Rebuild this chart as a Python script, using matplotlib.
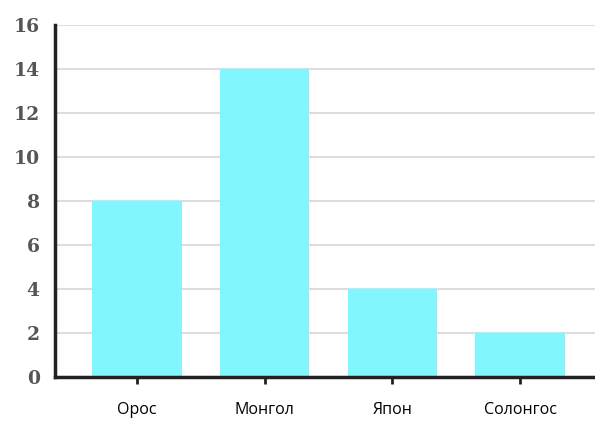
from matplotlib import pyplot as plt
import numpy as np

countries = ['Орос', 'Монгол', 'Япон', 'Солонгос']
values = [8, 14, 4, 2]
yticks = [0, 2, 4, 6, 8, 10, 12, 14, 16]

fig = plt.figure(figsize=(5.95, 4.21), dpi=100)
ax = fig.add_axes([55/595, 1-377/421, 1-55/595, 352/421])

x = np.arange(len(countries))
ax.bar(x, values, width=0.7, color='#82f6fe', zorder=2)

ax.set_xlim(-0.642, 3.587)
ax.set_ylim(0, 16)
ax.set_yticks(yticks)
ax.yaxis.grid(True, color='#dddddd', linewidth=1.5, zorder=0)
ax.set_axisbelow(True)

for s in ['top', 'right']:
    ax.spines[s].set_visible(False)
for s in ['left', 'bottom']:
    ax.spines[s].set_color('#222222')
    ax.spines[s].set_linewidth(2.5)

ax.tick_params(axis='y', length=0, pad=11, labelcolor='#555555')
for lab in ax.get_yticklabels():
    lab.set_fontfamily('DejaVu Serif')
    lab.set_fontweight('bold')
    lab.set_fontsize(13.5)

ax.set_xticks(x)
ax.set_xticklabels(countries, fontfamily='Open Sans', fontsize=11.5, color='black')
ax.tick_params(axis='x', length=5, width=2, color='#222222', pad=13)

fig.savefig('out.png', dpi=100)
